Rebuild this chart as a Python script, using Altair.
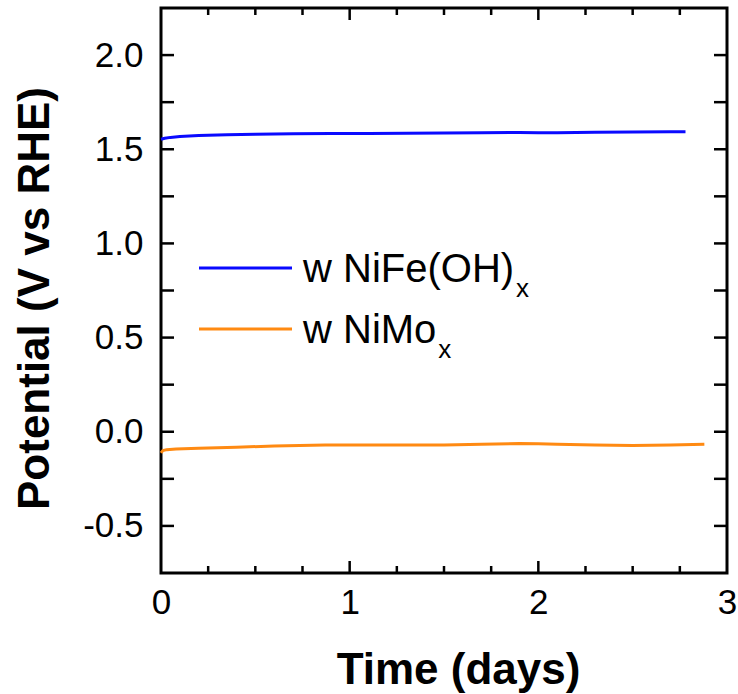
import altair as alt
import pandas as pd

# ---- data ----
days_nife = [0.0, 0.02, 0.05, 0.1, 0.2, 0.35, 0.5, 0.7, 0.9, 1.1, 1.3, 1.5, 1.7, 1.9, 2.0, 2.1, 2.3, 2.5, 2.7, 2.78]
pot_nife = [1.553, 1.558, 1.563, 1.568, 1.573, 1.577, 1.580, 1.582, 1.583, 1.584, 1.585, 1.586, 1.588, 1.589, 1.587, 1.587, 1.590, 1.592, 1.593, 1.593]

days_nimo = [0.0, 0.01, 0.03, 0.08, 0.2, 0.4, 0.6, 0.87, 1.1, 1.3, 1.5, 1.7, 1.9, 2.0, 2.1, 2.3, 2.5, 2.7, 2.88]
pot_nimo = [-0.112, -0.100, -0.095, -0.092, -0.088, -0.082, -0.076, -0.071, -0.071, -0.071, -0.070, -0.066, -0.063, -0.064, -0.067, -0.071, -0.073, -0.071, -0.067]

series_names = ["w NiFe(OH)", "w NiMo"]
series_sub = ["x", "x"]
series_colors = ["#0a0aff", "#ff8a12"]

x_label_values = [0, 1, 2, 3]
y_label_values = [-0.5, 0.0, 0.5, 1.0, 1.5, 2.0]
x_major_ticks = [1, 2]
x_minor_ticks = [0.25, 0.5, 0.75, 1.25, 1.5, 1.75, 2.25, 2.5, 2.75]
y_ticks = [-0.5, -0.25, 0.0, 0.25, 0.5, 0.75, 1.0, 1.25, 1.5, 1.75, 2.0]

W, H = 566, 565
FONT = "Liberation Sans"
LEG_FS = 40
SUB_FS = 26

df = pd.concat([
    pd.DataFrame({"days": days_nife, "pot": pot_nife, "series": series_names[0]}),
    pd.DataFrame({"days": days_nimo, "pot": pot_nimo, "series": series_names[1]}),
])

xscale = alt.Scale(domain=[0, 3], nice=False, zero=False)
yscale = alt.Scale(domain=[-0.75, 2.25], nice=False, zero=False)

x_enc = alt.X("days:Q", scale=xscale, axis=alt.Axis(
    values=x_label_values, format="d", domain=False, ticks=False, tickSize=0, grid=False,
    labelFlush=False, labelBound=False,
    labelFont=FONT, labelFontSize=35, labelColor="black", labelPadding=12,
    title="Time (days)", titleFont=FONT, titleFontSize=44, titleFontWeight="bold",
    titleColor="black", titleX=297, titleY=110, titleAlign="center", titleBaseline="alphabetic"))
y_enc = alt.Y("pot:Q", scale=yscale, axis=alt.Axis(
    values=y_label_values, domain=False, ticks=False, tickSize=0, grid=False,
    labelFlush=False, labelBound=False,
    labelExpr="replace(format(datum.value, '.1f'), '\u2212', '-')",
    labelFont=FONT, labelFontSize=35, labelColor="black", labelPadding=18,
    title="Potential (V vs RHE)", titleFont=FONT, titleFontSize=44, titleFontWeight="bold",
    titleColor="black", titleX=-126, titleY=290, titleBaseline="middle"))

lines = alt.Chart(df).mark_line(strokeWidth=3).encode(
    x=x_enc, y=y_enc,
    color=alt.Color("series:N", scale=alt.Scale(domain=series_names, range=series_colors), legend=None),
    detail="series:N",
)

xmaj = pd.DataFrame({"days": x_major_ticks})
xmin = pd.DataFrame({"days": x_minor_ticks})
yt = pd.DataFrame({"pot": y_ticks})

tick_style = dict(color="black", strokeWidth=2.5)
ticks = [
    alt.Chart(xmaj).mark_rule(**tick_style).encode(x=x_enc, y=alt.value(H), y2=alt.value(H - 12)),
    alt.Chart(xmaj).mark_rule(**tick_style).encode(x=x_enc, y=alt.value(0), y2=alt.value(12)),
    alt.Chart(xmin).mark_rule(**tick_style).encode(x=x_enc, y=alt.value(H), y2=alt.value(H - 7)),
    alt.Chart(xmin).mark_rule(**tick_style).encode(x=x_enc, y=alt.value(0), y2=alt.value(7)),
    alt.Chart(yt).mark_rule(**tick_style).encode(y=y_enc, x=alt.value(0), x2=alt.value(13)),
    alt.Chart(yt).mark_rule(**tick_style).encode(y=y_enc, x=alt.value(W), x2=alt.value(W - 13)),
]

# ---- manual legend ----
leg_layers = []
leg_y = [260, 321]
text_w = [5.277 * LEG_FS, 3.333 * LEG_FS]  # Arial-metric advance widths
for i, name in enumerate(series_names):
    ld = pd.DataFrame({"series": [name], "sub": [series_sub[i]]})
    leg_layers.append(alt.Chart(ld).mark_rule(color=series_colors[i], strokeWidth=3).encode(
        x=alt.value(38), x2=alt.value(131), y=alt.value(leg_y[i])))
    leg_layers.append(alt.Chart(ld).mark_text(align="left", baseline="alphabetic", font=FONT,
                                              fontSize=LEG_FS, color="black").encode(
        x=alt.value(142), y=alt.value(leg_y[i] + 14), text="series:N"))
    leg_layers.append(alt.Chart(ld).mark_text(align="left", baseline="alphabetic", font=FONT,
                                              fontSize=SUB_FS, color="black").encode(
        x=alt.value(142 + text_w[i] + 2), y=alt.value(leg_y[i] + 29), text="sub:N"))

chart = alt.layer(lines, *ticks, *leg_layers).properties(
    width=W, height=H,
    padding={"left": 161, "top": 8, "right": 11, "bottom": 121},
    autosize=alt.AutoSizeParams(type="none"),
    background="white",
).configure_view(stroke="black", strokeWidth=3)

chart.save("out.html", embed_options={"renderer": "svg", "actions": False})
